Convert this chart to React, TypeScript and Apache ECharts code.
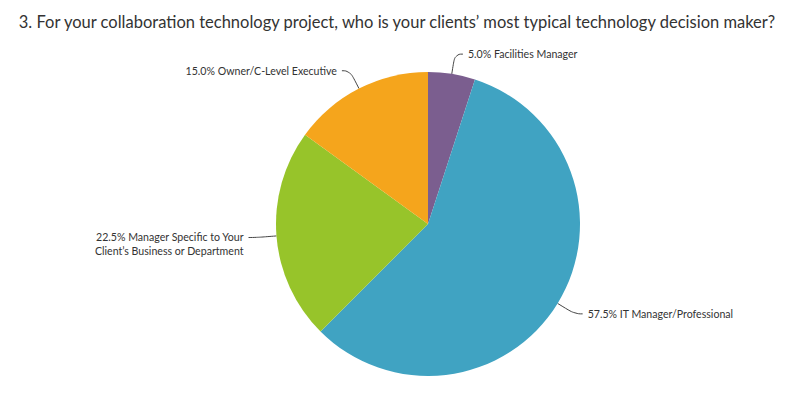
import React, { useEffect, useRef } from "react";
import * as echarts from "echarts";

const titleText =
  "3. For your collaboration technology project, who is your clients\u2019 most typical technology decision maker?";
const categories = [
  "Facilities Manager",
  "IT Manager/Professional",
  "Manager Specific to Your\nClient\u2019s Business or Department",
  "Owner/C-Level Executive",
];
const values = [5.0, 57.5, 22.5, 15.0];
const colors = ["#7b5e8f", "#40a3c2", "#97c42a", "#f5a51c"];

export default function App() {
  const ref = useRef<HTMLDivElement>(null);
  useEffect(() => {
    if (!ref.current) return;
    const chart = echarts.init(ref.current, null, { renderer: "svg" });
    chart.setOption({
      animation: false,
      backgroundColor: "#ffffff",
      title: {
        text: titleText,
        left: 392,
        textAlign: "center",
        top: 8,
        textStyle: {
          fontFamily: "Lato",
          fontSize: 16.5,
          fontWeight: "normal",
          color: "#333333",
        },
      },
      series: [
        {
          type: "pie",
          center: [428, 224],
          radius: 152,
          startAngle: 90,
          clockwise: true,
          data: categories.map((c, i) => ({
            name: c,
            value: values[i],
            itemStyle: { color: colors[i] },
          })),
          label: {
            show: true,
            formatter: (p: any) => `${p.value.toFixed(1)}% ${p.name}`,
            fontFamily: "Lato",
            fontSize: 10.6,
            lineHeight: 14,
            color: "#333333",
            align: "left",
            distanceToLabelLine: 5,
          },
          labelLine: {
            show: true,
            length: 20,
            length2: 8,
            smooth: 0.5,
            lineStyle: { color: "#444444", width: 1 },
          },
          labelLayout: (params: any) =>
            categories[params.dataIndex].indexOf("\n") >= 0 ? { dy: 7 } : {},
          emphasis: { disabled: true },
        },
      ],
    });
    return () => chart.dispose();
  }, []);
  return (
    <div
      ref={ref}
      style={{ position: "fixed", left: 0, top: 0, width: 800, height: 394 }}
    />
  );
}
